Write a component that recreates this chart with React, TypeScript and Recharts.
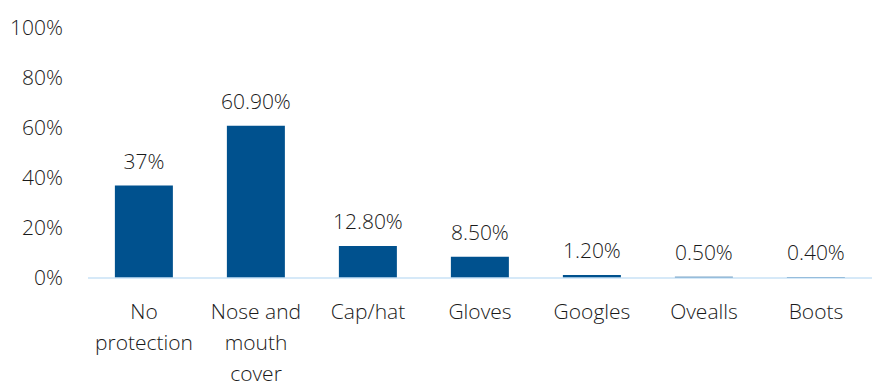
import React from "react";
import { BarChart, Bar, XAxis, YAxis, LabelList } from "recharts";

const categories = ["No\nprotection", "Nose and\nmouth\ncover", "Cap/hat", "Gloves", "Googles", "Ovealls", "Boots"];
const values = [37, 60.9, 12.8, 8.5, 1.2, 0.5, 0.4];
const valueLabels = ["37%", "60.90%", "12.80%", "8.50%", "1.20%", "0.50%", "0.40%"];
const yTicks = [0, 20, 40, 60, 80, 100];

const data = categories.map((c, i) => ({ name: c, value: values[i], label: valueLabels[i] }));

const FONT = "'Open Sans', sans-serif";
const TEXT = "#1a1a1a";
const FS = 21;

const CatTick = (props: any) => {
  const { x, y, payload } = props;
  const lines = String(payload.value).split("\n");
  return (
    <text x={x} y={y} textAnchor="middle" fontFamily={FONT} fontSize={FS} fontWeight={300} fill={TEXT}>
      {lines.map((l, i) => (
        <tspan key={i} x={x} dy={i === 0 ? 33 : 31}>{l}</tspan>
      ))}
    </text>
  );
};

export default function App() {
  return (
    <div style={{ position: "absolute", left: 0, top: 0, background: "#fff" }}>
      <BarChart width={876} height={381} data={data} margin={{ top: 28, right: 4, bottom: 0, left: 0 }} barCategoryGap="24%">
        <XAxis dataKey="name" interval={0} tick={<CatTick />} tickLine={false} axisLine={{ stroke: "#c9e2f6", strokeWidth: 1.5 }} height={103} />
        <YAxis domain={[0, 100]} ticks={yTicks} interval={0} tickFormatter={(v) => `${v}%`} width={88} axisLine={false} tickLine={false} tickSize={0} tickMargin={25} tick={{ fontFamily: FONT, fontSize: FS, fontWeight: 300, fill: TEXT }} />
        <Bar dataKey="value" fill="#00518e" isAnimationActive={false}>
          <LabelList dataKey="label" position="top" offset={17} style={{ fontFamily: FONT, fontSize: FS, fontWeight: 300, fill: TEXT }} />
        </Bar>
      </BarChart>
    </div>
  );
}
